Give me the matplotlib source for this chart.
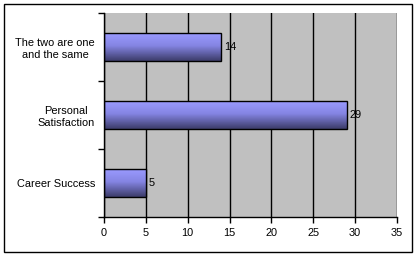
import matplotlib
matplotlib.use("Agg")
import matplotlib.pyplot as plt
import numpy as np
from matplotlib.colors import LinearSegmentedColormap
from matplotlib.patches import Rectangle

categories = ["Career Success", "Personal\nSatisfaction", "The two are one\nand the same"]
values = [5, 29, 14]
x_ticks = [0, 5, 10, 15, 20, 25, 30, 35]

plt.rcParams["font.family"] = ["Liberation Sans", "DejaVu Sans"]
plt.rcParams["font.size"] = 7.9

fig = plt.figure(figsize=(4.17, 2.56), dpi=100)
fig.patches.append(Rectangle((4 / 417, 4 / 256), 408 / 417, 248 / 256,
                             transform=fig.transFigure, fill=False,
                             edgecolor="black", linewidth=1.0))
ax = fig.add_axes([104 / 417, 1 - 217 / 256, 293 / 417, 204 / 256])
ax.set_facecolor("#c0c0c0")

# vertical gradient for the bars (light on top, dark below)
cmap = LinearSegmentedColormap.from_list(
    "bar", [(0.0, "#9a9aff"), (0.45, "#8585e3"), (1.0, "#3c3c6a")])
grad = np.linspace(0, 1, 64).reshape(-1, 1)
height = 0.41
ypos = np.arange(len(categories))

for y, v in zip(ypos, values):
    ax.imshow(grad, extent=[0, v, y - height / 2, y + height / 2],
              aspect="auto", cmap=cmap, origin="upper", zorder=2)
    ax.add_patch(Rectangle((0, y - height / 2), v, height, fill=False,
                           edgecolor="black", linewidth=1.0, zorder=3))
    ax.text(v + 0.3, y, str(v), va="center", ha="left", zorder=4)

ax.set_xlim(0, 35)
ax.set_ylim(-0.5, len(categories) - 0.5)
ax.set_xticks(x_ticks)
ax.xaxis.grid(True, color="black", linewidth=1.0)
ax.set_axisbelow(True)

ax.set_yticks(np.arange(-0.5, len(categories), 1.0))
ax.set_yticklabels([])
ax.set_yticks(ypos, minor=True)
ax.set_yticklabels(categories, minor=True, ha="right", multialignment="center")
ax.tick_params(axis="y", which="minor", length=0, pad=6.5)
ax.tick_params(axis="y", which="major", length=4, width=1, direction="out")
ax.tick_params(axis="x", length=4, width=1, direction="out", pad=4)

for s in ["top", "right"]:
    ax.spines[s].set_visible(False)
for s in ["left", "bottom"]:
    ax.spines[s].set_linewidth(1.0)

fig.savefig("out.png", dpi=100)
